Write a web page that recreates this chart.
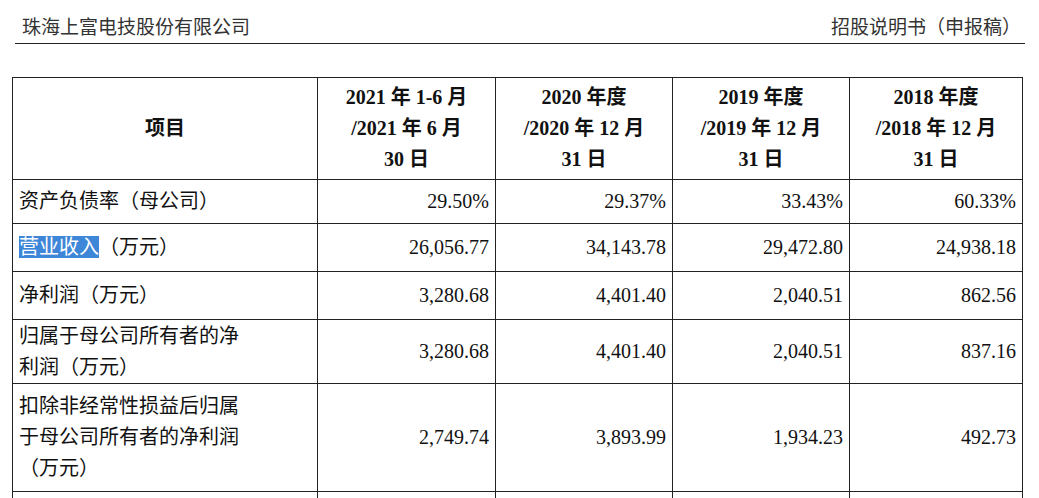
<!DOCTYPE html>
<html><head><meta charset="utf-8">
<script src="https://cdn.jsdelivr.net/npm/chart.js@4/dist/chart.umd.min.js"></script>
<style>
body{margin:0;width:1039px;height:498px;background:#fff;overflow:hidden;font-family:"Liberation Serif","Noto Sans CJK SC",serif;color:#111}
#top{position:absolute;left:15px;top:6px;width:1010px;height:37px;border-bottom:1.5px solid #222;font-size:19px;color:#333}
#top .l{position:absolute;left:7px;top:6px}
#top .r{position:absolute;right:4px;top:6px}
table{position:absolute;left:12px;top:77px;border-collapse:collapse;font-size:20px}
td{border:1.5px solid #222;padding:0 6px;text-align:right}
td.n{text-align:left}
th{border:1.5px solid #222;font-weight:bold;line-height:31px;padding:4px 6px}
.hl{background:#3d86d8;color:#fff;position:relative}
</style></head><body>
<div id="top"><span class="l">珠海上富电技股份有限公司</span><span class="r">招股说明书（申报稿）</span></div>
<table id="t"></table>
<script>
var headers = ['项目', '2021 年 1-6 月<br>/2021 年 6 月<br>30 日', '2020 年度<br>/2020 年 12 月<br>31 日', '2019 年度<br>/2019 年 12 月<br>31 日', '2018 年度<br>/2018 年 12 月<br>31 日'];
var items = ['资产负债率（母公司）', '<span class="hl">营业收入</span>（万元）', '净利润（万元）', '归属于母公司所有者的净<br>利润（万元）', '扣除非经常性损益后归属<br>于母公司所有者的净利润<br>（万元）'];
var values2021 = ['29.50%', '26,056.77', '3,280.68', '3,280.68', '2,749.74'];
var values2020 = ['29.37%', '34,143.78', '4,401.40', '4,401.40', '3,893.99'];
var values2019 = ['33.43%', '29,472.80', '2,040.51', '2,040.51', '1,934.23'];
var values2018 = ['60.33%', '24,938.18', '862.56', '837.16', '492.73'];
var colW = [306, 179, 178, 178, 174];
var rowH = [101, 44, 48, 48, 64, 108];

var t = document.getElementById('t');
var h = '<tr style="height:' + rowH[0] + 'px">';
headers.forEach(function (x, i) { h += '<th style="width:' + (colW[i] - 14) + 'px">' + x + '</th>'; });
h += '</tr>';
items.forEach(function (name, r) {
    h += '<tr style="height:' + rowH[r + 1] + 'px"><td class="n" style="line-height:31px">' + name + '</td>';
    [values2021, values2020, values2019, values2018].forEach(function (v) { h += '<td>' + v[r] + '</td>'; });
    h += '</tr>';
});
h += '<tr style="height:20px"><td></td><td></td><td></td><td></td><td></td></tr>';
t.innerHTML = h;
</script>
</body></html>
